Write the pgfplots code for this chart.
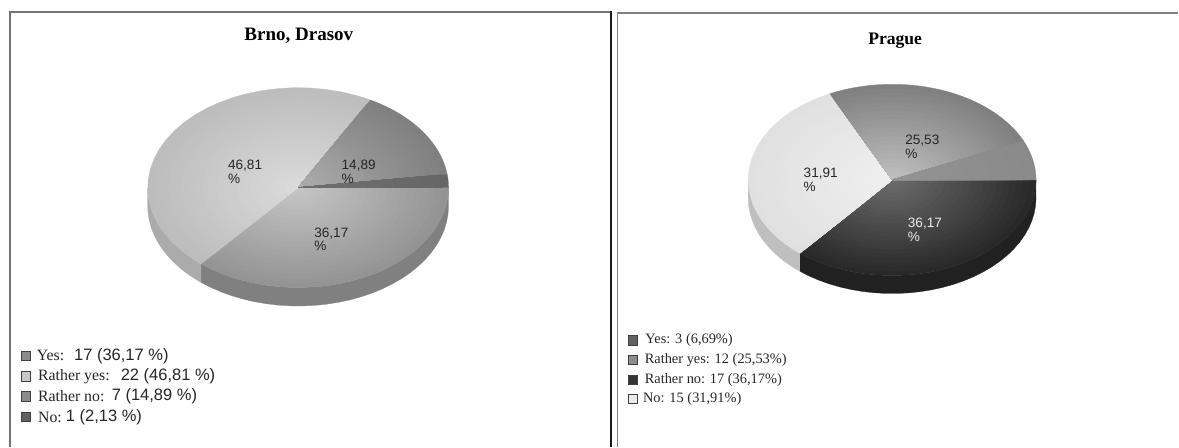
\documentclass[border=0pt]{standalone}
\usepackage{fontspec}
\setmainfont{Liberation Serif}
\newfontfamily\arial{Liberation Sans}
\usepackage{pgfplots}
\pgfplotsset{compat=1.18}

% Slice shares in percent, as stated on the slices and in the legends.
\def\brnoYes{36.17}
\def\brnoRatherYes{46.81}
\def\brnoRatherNo{14.89}
\def\brnoNo{2.13}
\def\prahaRatherNo{36.17}
\def\prahaNo{31.91}
\def\prahaRatherYes{25.53}
\def\prahaYes{6.69}

% Geometry of an elliptic pie: centre, radii and rim depth set by \setpie.
\newcommand{\setpie}[6]{%
  \def\pcx{#1}\def\pcy{#2}\def\prx{#3}\def\pry{#4}\def\pdepth{#5}\def\ptotal{#6}%
  \def\pangle{0}}

% Collect the outline of an arc at radius fraction #1, angle #2 to #3, offset #4.
\newcommand{\arcpoints}[4]{%
  \pgfplotsforeachungrouped \j in {0,...,28} {%
    \pgfmathsetmacro\th{#2+(#3-#2)/28*\j}%
    \pgfmathsetmacro\px{\pcx+#1*\prx*cos(\th)}%
    \pgfmathsetmacro\py{\pcy+#4+#1*\pry*sin(\th)}%
    \xdef\outline{\outline (\px,\py)}%
  }}

% Top of one slice: rings from the rim (darkness #3) inward to the centre (#4).
\newcommand{\slicetop}[4]{%
  \pgfplotsforeachungrouped \k in {22,21,...,1} {%
    \pgfmathsetmacro\f{\k/22}%
    \pgfmathsetmacro\p{#4+(#3-#4)*\f}%
    \xdef\outline{(\pcx,\pcy)}%
    \arcpoints{\f}{#1}{#2}{0}%
    \edef\temp{\noexpand\addplot[draw={black!\p},line width=0.25pt,fill={black!\p},mark=none]
      coordinates {\outline (\pcx,\pcy)};}%
    \temp
  }}

% One slice: value #1, darkness at rim #2 and centre #3, then advance the angle.
\newcommand{\slice}[3]{%
  \pgfmathsetmacro\pnext{\pangle+#1/\ptotal*360}%
  \slicetop{\pangle}{\pnext}{#2}{#3}%
  \global\let\pangle\pnext}

% Visible rim of a slice, from value-derived angles #1 to #2.
\newcommand{\rim}[3]{%
  \xdef\outline{}%
  \arcpoints{1}{#1}{#2}{0}%
  \arcpoints{1}{#2}{#1}{\pdepth}%
  \edef\temp{\noexpand\addplot[draw=#3,line width=0.25pt,fill=#3,mark=none]
    coordinates {\outline};}%
  \temp}

\newcommand{\pielabel}[4][black!85]{%
  \node[anchor=base west,inner sep=0pt,text=#1,font=\arial\fontsize{13.6}{13}\selectfont] at (axis cs:#2,#3+4.6) {#4};
  \node[anchor=base west,inner sep=0pt,text=#1,font=\arial\fontsize{13.6}{13}\selectfont] at (axis cs:#2,#3+18.2) {\%};}

\newcommand{\swatch}[3]{%
  \draw[draw=black!75,fill=#3,line width=0.9pt] (axis cs:#1-4.6,#2-4.6) rectangle (axis cs:#1+4.6,#2+4.6);}

\newcommand{\legendtext}[3]{%
  \node[anchor=west,inner sep=0pt,font=\fontsize{14.4}{14}\selectfont,text=black!85] at (axis cs:#1,#2) {#3};}
\newcommand{\lser}[1]{{\fontsize{15.8}{14}\selectfont #1}}
\newcommand{\ar}[1]{{\arial\fontsize{16.5}{14}\selectfont #1}}

\begin{document}
\begin{tikzpicture}
\begin{axis}[
  scale only axis,
  width=1179pt,
  height=447pt,
  xmin=0,xmax=1179,
  ymin=0,ymax=447,
  y dir=reverse,
  axis lines=none,
  clip=false,
]
  % White page behind both panels, spanning the whole plot area
  \fill[white] (axis cs:0,0) rectangle (axis cs:1179,447);

  % Brno, Drasov: rim first, then the top surface clockwise from the east
  \setpie{298.3}{187.7}{150.5}{100}{18.5}{100}
  \pgfmathsetmacro\aOne{\brnoYes/100*360}
  \rim{0}{\aOne}{black!50}
  \rim{\aOne}{180}{black!33}
  \slice{\brnoYes}{42}{22}
  \slice{\brnoRatherYes}{26}{14}
  \slice{\brnoRatherNo}{50}{32}
  \slice{\brnoNo}{60}{56}

  % Prague
  \setpie{892.7}{180}{144}{95.7}{18}{100.3}
  \pgfmathsetmacro\aOne{\prahaRatherNo/100.3*360}
  \rim{0}{\aOne}{black!87}
  \rim{\aOne}{180}{black!25}
  \slice{\prahaRatherNo}{84}{57}
  \slice{\prahaNo}{12}{6}
  \slice{\prahaRatherYes}{50}{24}
  \slice{\prahaYes}{46}{42}

  % Panel frames
  \draw[black!55,line width=1.5pt] (axis cs:10,447) -- (axis cs:10,12) -- (axis cs:611,12);
  \draw[black!90,line width=2pt] (axis cs:611,11.5) -- (axis cs:611,447);
  \draw[black!50,line width=1.5pt] (axis cs:618,447) -- (axis cs:618,13) -- (axis cs:1179,13);

  % Titles
  \node[font=\bfseries\fontsize{19}{19}\selectfont] at (axis cs:299,35.7) {Brno, Drasov};
  \node[font=\bfseries\fontsize{17.6}{17.6}\selectfont] at (axis cs:895.7,40.7) {Prague};

  % Slice labels
  \pielabel{228}{165}{46,81}
  \pielabel{341.7}{165}{14,89}
  \pielabel{314.3}{232.7}{36,17}
  \pielabel{905.7}{140}{25,53}
  \pielabel{804}{173}{31,91}
  \pielabel[black!8]{908.3}{223.3}{36,17}

  % Legends
  \swatch{25.7}{356}{black!45}
  \swatch{25.7}{376.7}{black!22}
  \swatch{25.7}{396.7}{black!45}
  \swatch{25.7}{417.3}{black!62}
  \legendtext{36.7}{356}{\lser{Yes:}}
  \legendtext{74}{356}{\ar{17 (36,17 \%)}}
  \legendtext{38}{376.7}{\lser{Rather yes:}}
  \legendtext{120.7}{376.7}{\ar{22 (46,81 \%)}}
  \legendtext{38}{396.7}{\lser{Rather no:}}
  \legendtext{111.7}{396.7}{\ar{7 (14,89 \%)}}
  \legendtext{38}{417.3}{\lser{No:}}
  \legendtext{65.7}{417.3}{\ar{1 (2,13 \%)}}

  \swatch{633}{340.7}{black!62}
  \swatch{633}{360}{black!45}
  \swatch{633}{380}{black!80}
  \swatch{633}{399}{black!8}
  \legendtext{645.7}{340.7}{Yes: 3 (6,69\%)}
  \legendtext{645}{360}{Rather yes: 12 (25,53\%)}
  \legendtext{645}{380}{Rather no: 17 (36,17\%)}
  \legendtext{643.3}{399}{No: 15 (31,91\%)}
\end{axis}
\end{tikzpicture}
\end{document}
